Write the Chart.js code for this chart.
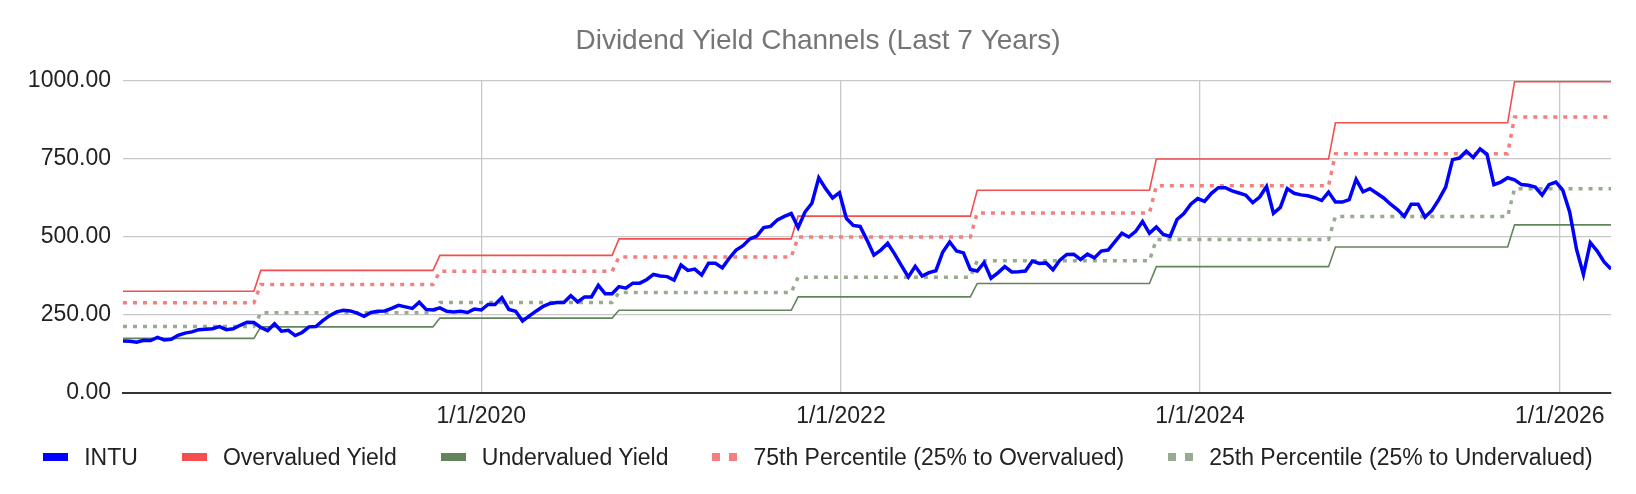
<!DOCTYPE html>
<html>
<head>
<meta charset="utf-8">
<script src="https://cdn.jsdelivr.net/npm/chart.js@4.4.1/dist/chart.umd.min.js"></script>
<style>
  body { margin: 0; background: #fff; }
  #wrap { position: relative; width: 1636px; height: 494px; }
  #legend {
    position: absolute; left: 0; top: 445px; width: 1636px; height: 24px;
    display: flex; justify-content: center; align-items: center;
    font: 23px Arial, "Liberation Sans", sans-serif; color: #222;
  }
  .item { display: flex; align-items: center; margin: 0 22px; white-space: nowrap; }
  .mark { width: 25px; height: 8px; margin-right: 16px; }
  .dots { display: flex; justify-content: space-between; }
  .dots span { width: 8px; height: 8px; }
</style>
</head>
<body>
<div id="wrap"><canvas id="chart"></canvas><div id="legend"></div></div>
<script>
// biweekly INTU closes, Jan 2018 -> Apr 2026
let intuPrice = [
  167, 166, 163, 169, 168, 178, 170, 172, 185, 192, 196, 203, 204, 206, 213, 203, 206, 217, 227, 226, 210, 200, 222, 198, 201, 184,
  194, 212, 213, 232, 248, 260, 265, 263, 256, 246, 258, 262, 263, 271, 281, 276, 271, 291, 268, 266, 273, 262, 260, 262, 258, 269,
  266, 284, 284, 306, 268, 262, 231, 247, 263, 278, 287, 290, 290, 312, 292, 308, 308, 345, 318, 318, 341, 336, 352, 352, 363, 380,
  375, 373, 362, 410, 393, 397, 378, 416, 416, 401, 432, 458, 472, 494, 503, 530, 534, 555, 566, 575, 530, 580, 608, 690, 655, 625,
  642, 560, 537, 534, 490, 442, 458, 480, 446, 408, 372, 406, 375, 386, 392, 452, 484, 455, 449, 396, 391, 418, 368, 385, 405, 388,
  389, 391, 423, 415, 417, 395, 426, 444, 445, 428, 445, 433, 455, 458, 485, 512, 500, 518, 550, 512, 532, 508, 502, 556, 575, 605,
  623, 614, 640, 658, 658, 648, 641, 634, 610, 628, 662, 576, 595, 655, 640, 635, 632, 626, 617, 644, 612, 612, 620, 685, 645, 655,
  640, 625, 605, 588, 566, 605, 605, 564, 585, 620, 660, 748, 753, 775, 755, 782, 765, 668, 676, 690, 683, 668, 666, 660, 634, 668,
  676, 650, 580, 460, 380, 482, 455, 420, 397
];
let firstDate = "2018-01-03";
let stepDays = 14;

// channel levels, reset once a year (index into intuPrice where each level starts)
let resetIndex = [0, 20, 46, 72, 98, 124, 150, 176, 202];
let overvalued = [326, 393, 441, 494, 567, 650, 750, 866, 998];
let pct75 = [289, 348, 390, 436, 500, 577, 664, 767, 885];
let undervalued = [175, 212, 240, 265, 308, 351, 405, 468, 539];
let pct25 = [213, 257, 290, 322, 371, 424, 492, 566, 655];

let yTicks = [0, 250, 500, 750, 1000];
let xTickYears = [2020, 2022, 2024, 2026];

let fontFamily = 'Arial, "Liberation Sans", sans-serif';
let dayMs = 86400000;
let t0 = Date.parse(firstDate);
let dates = intuPrice.map((_, i) => t0 + i * stepDays * dayMs);

function channel(levels) {
  return dates.map((d, i) => {
    let k = 0;
    while (k + 1 < resetIndex.length && resetIndex[k + 1] <= i) k++;
    return { x: d, y: levels[k] };
  });
}

let datasets = [
  { label: "INTU", data: intuPrice.map((v, i) => ({ x: dates[i], y: v })),
    borderColor: "#0000ff", borderWidth: 3.5 },
  { label: "Overvalued Yield", data: channel(overvalued),
    borderColor: "#f44e4e", borderWidth: 1.6 },
  { label: "Undervalued Yield", data: channel(undervalued),
    borderColor: "#62845a", borderWidth: 1.6 },
  { label: "75th Percentile (25% to Overvalued)", data: channel(pct75),
    borderColor: "#f47f7f", borderWidth: 3.5, borderDash: [4, 6], dotted: true },
  { label: "25th Percentile (25% to Undervalued)", data: channel(pct25),
    borderColor: "#98ab8e", borderWidth: 3.5, borderDash: [4, 6], dotted: true },
];

const ctx = document.getElementById("chart").getContext("2d");
let myChart = new Chart(ctx, {
  type: "line",
  data: { datasets: datasets },
  options: {
    responsive: true,
    maintainAspectRatio: false,
    animation: false,
    layout: { padding: { left: 25, right: 25, top: 0, bottom: 0 } },
    elements: { point: { radius: 0 }, line: { tension: 0, borderCapStyle: "butt" } },
    plugins: {
      legend: { display: false },
      tooltip: { enabled: false },
      title: {
        display: true,
        text: "Dividend Yield Channels (Last 7 Years)",
        color: "#757575",
        font: { family: fontFamily, size: 28, weight: "normal" },
        padding: { top: 24, bottom: 23.4 },
      },
    },
    scales: {
      x: {
        type: "linear",
        min: dates[0],
        max: dates[dates.length - 1],
        afterBuildTicks: (s) => { s.ticks = xTickYears.map((y) => ({ value: Date.UTC(y, 0, 1) })); },
        afterFit: (s) => { s.height = 101; },
        grid: { color: "#c8c8c8", lineWidth: 1.3, drawTicks: false },
        border: { display: true, color: "#333", width: 2 },
        ticks: {
          color: "#222",
          font: { family: fontFamily, size: 23 },
          padding: 10,
          maxRotation: 0,
          autoSkip: false,
          callback: (v) => "1/1/" + new Date(v).getUTCFullYear(),
        },
      },
      y: {
        min: 0,
        max: 1000,
        afterBuildTicks: (s) => { s.ticks = yTicks.map((v) => ({ value: v })); },
        afterFit: (s) => { s.width = 98; },
        grid: { color: "#c8c8c8", lineWidth: 1.3, drawTicks: false },
        border: { display: false },
        ticks: {
          color: "#222",
          font: { family: fontFamily, size: 23 },
          padding: 12,
          callback: (v) => Number(v).toFixed(2),
        },
      },
    },
  },
});

// legend under the plot
let legend = document.getElementById("legend");
datasets.forEach((ds) => {
  let item = document.createElement("div");
  item.className = "item";
  let mark = document.createElement("div");
  if (ds.dotted) {
    mark.className = "mark dots";
    mark.innerHTML = '<span style="background:' + ds.borderColor + '"></span><span style="background:' + ds.borderColor + '"></span>';
  } else {
    mark.className = "mark";
    mark.style.background = ds.borderColor;
  }
  let txt = document.createElement("span");
  txt.textContent = ds.label;
  item.appendChild(mark);
  item.appendChild(txt);
  legend.appendChild(item);
});
</script>
</body>
</html>
